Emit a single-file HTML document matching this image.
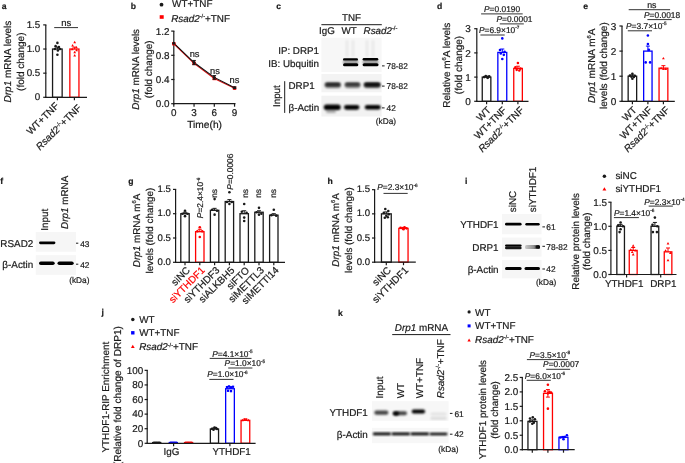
<!DOCTYPE html>
<html><head><meta charset="utf-8"><title>Figure</title>
<style>
html,body{margin:0;padding:0;background:#fff;width:685px;height:463px;overflow:hidden}
svg{display:block;will-change:transform}
text{font-family:"Liberation Sans",sans-serif;fill:#1a1a1a;text-rendering:geometricPrecision;stroke:#1a1a1a;stroke-width:0.22px;stroke-opacity:0.9}
</style></head><body>
<svg width="685" height="463" viewBox="0 0 685 463">
<defs><filter id="bl5" x="-50%" y="-50%" width="200%" height="200%"><feGaussianBlur stdDeviation="0.5"/></filter><filter id="bl6" x="-50%" y="-50%" width="200%" height="200%"><feGaussianBlur stdDeviation="0.6"/></filter><filter id="bl7" x="-50%" y="-50%" width="200%" height="200%"><feGaussianBlur stdDeviation="0.7"/></filter><filter id="bl8" x="-50%" y="-50%" width="200%" height="200%"><feGaussianBlur stdDeviation="0.8"/></filter><filter id="bl9" x="-50%" y="-50%" width="200%" height="200%"><feGaussianBlur stdDeviation="0.9"/></filter><filter id="bl10" x="-50%" y="-50%" width="200%" height="200%"><feGaussianBlur stdDeviation="1.0"/></filter><filter id="bl12" x="-50%" y="-50%" width="200%" height="200%"><feGaussianBlur stdDeviation="1.2"/></filter><filter id="bl15" x="-50%" y="-50%" width="200%" height="200%"><feGaussianBlur stdDeviation="1.5"/></filter><filter id="bl20" x="-50%" y="-50%" width="200%" height="200%"><feGaussianBlur stdDeviation="2.0"/></filter><linearGradient id="grd1" x1="0" x2="1" y1="0" y2="0"><stop offset="0" stop-color="#000" stop-opacity="0.18"/><stop offset="0.55" stop-color="#000" stop-opacity="0.4"/><stop offset="1" stop-color="#000" stop-opacity="0.85"/></linearGradient></defs>
<rect width="685" height="463" fill="#fff"/>
<text x="1.80" y="9.00" font-size="8.6" font-weight="bold" >a</text>
<line x1="45.80" y1="97.90" x2="45.80" y2="24.89" stroke="#1a1a1a" stroke-width="1.2" />
<line x1="43.20" y1="97.30" x2="46.40" y2="97.30" stroke="#1a1a1a" stroke-width="1.2" />
<text x="40.30" y="100.30" font-size="9.8" text-anchor="end" >0</text>
<line x1="43.20" y1="73.16" x2="46.40" y2="73.16" stroke="#1a1a1a" stroke-width="1.2" />
<text x="40.30" y="76.16" font-size="9.8" text-anchor="end" >0.5</text>
<line x1="43.20" y1="49.03" x2="46.40" y2="49.03" stroke="#1a1a1a" stroke-width="1.2" />
<text x="40.30" y="52.03" font-size="9.8" text-anchor="end" >1.0</text>
<line x1="43.20" y1="24.89" x2="46.40" y2="24.89" stroke="#1a1a1a" stroke-width="1.2" />
<text x="40.30" y="27.89" font-size="9.8" text-anchor="end" >1.5</text>
<rect x="52.55" y="49.03" width="9.60" height="48.27" fill="#fff" stroke="#1a1a1a" stroke-width="1.3" />
<rect x="69.85" y="49.03" width="9.10" height="48.27" fill="#fff" stroke="#ff0000" stroke-width="1.3" />
<line x1="45.20" y1="97.30" x2="87.00" y2="97.30" stroke="#1a1a1a" stroke-width="1.2" />
<line x1="57.40" y1="97.30" x2="57.40" y2="100.30" stroke="#1a1a1a" stroke-width="1.2" />
<line x1="74.40" y1="97.30" x2="74.40" y2="100.30" stroke="#1a1a1a" stroke-width="1.2" />
<line x1="57.40" y1="47.10" x2="57.40" y2="49.03" stroke="#1a1a1a" stroke-width="1.0" />
<line x1="55.40" y1="47.10" x2="59.40" y2="47.10" stroke="#1a1a1a" stroke-width="1.0" />
<line x1="74.40" y1="47.10" x2="74.40" y2="49.03" stroke="#ff0000" stroke-width="1.0" />
<line x1="72.40" y1="47.10" x2="76.40" y2="47.10" stroke="#ff0000" stroke-width="1.0" />
<circle cx="57.40" cy="42.90" r="1.3" fill="#1a1a1a"/>
<circle cx="55.60" cy="46.13" r="1.3" fill="#1a1a1a"/>
<circle cx="58.90" cy="47.10" r="1.3" fill="#1a1a1a"/>
<circle cx="54.90" cy="49.03" r="1.3" fill="#1a1a1a"/>
<circle cx="60.00" cy="49.03" r="1.3" fill="#1a1a1a"/>
<circle cx="57.90" cy="50.48" r="1.3" fill="#1a1a1a"/>
<circle cx="57.40" cy="54.82" r="1.3" fill="#1a1a1a"/>
<path d="M73.30 43.20L76.10 43.20L74.70 40.76Z" fill="#ff0000"/>
<path d="M71.20 46.39L74.00 46.39L72.60 43.95Z" fill="#ff0000"/>
<path d="M75.00 48.32L77.80 48.32L76.40 45.88Z" fill="#ff0000"/>
<path d="M70.80 50.25L73.60 50.25L72.20 47.81Z" fill="#ff0000"/>
<path d="M75.20 51.21L78.00 51.21L76.60 48.78Z" fill="#ff0000"/>
<path d="M73.30 53.14L76.10 53.14L74.70 50.71Z" fill="#ff0000"/>
<path d="M73.30 56.52L76.10 56.52L74.70 54.09Z" fill="#ff0000"/>
<line x1="54.20" y1="27.60" x2="78.00" y2="27.60" stroke="#333" stroke-width="1.0" />
<text x="66.20" y="25.90" font-size="9.45" text-anchor="middle" >ns</text>
<text x="10.80" y="61.60" font-size="10.0" text-anchor="middle" transform="rotate(-90 10.80 61.60)" ><tspan font-style="italic">Drp1</tspan> mRNA levels</text>
<text x="23.60" y="61.70" font-size="10.0" text-anchor="middle" transform="rotate(-90 23.60 61.70)" >(fold change)</text>
<text x="59.50" y="106.50" font-size="10.0" text-anchor="end" transform="rotate(-45 59.50 106.50)" >WT+TNF</text>
<text x="82.00" y="108.60" font-size="10.0" text-anchor="end" transform="rotate(-45 82.00 108.60)" ><tspan font-style="italic">Rsad2</tspan><tspan font-size="5.6" dy="-3.6">-/-</tspan><tspan dy="3.6">+TNF</tspan></text>
<text x="130.80" y="9.00" font-size="8.6" font-weight="bold" >b</text>
<circle cx="161.50" cy="4.70" r="1.9" fill="#1a1a1a"/>
<text x="172.10" y="7.00" font-size="9.9" >WT+TNF</text>
<rect x="159.7" y="15.2" width="4.0" height="3.6" fill="#ff0000"/>
<text x="171.20" y="21.80" font-size="9.9" ><tspan font-style="italic">Rsad2</tspan><tspan font-size="5.6" dy="-3.6">-/-</tspan><tspan dy="3.6">+TNF</tspan></text>
<line x1="173.80" y1="104.30" x2="173.80" y2="31.10" stroke="#1a1a1a" stroke-width="1.2" />
<line x1="171.20" y1="103.70" x2="174.40" y2="103.70" stroke="#1a1a1a" stroke-width="1.2" />
<text x="169.60" y="107.30" font-size="9.9" text-anchor="end" >0.0</text>
<line x1="171.20" y1="79.50" x2="174.40" y2="79.50" stroke="#1a1a1a" stroke-width="1.2" />
<text x="169.60" y="83.10" font-size="9.9" text-anchor="end" >0.4</text>
<line x1="171.20" y1="55.30" x2="174.40" y2="55.30" stroke="#1a1a1a" stroke-width="1.2" />
<text x="169.60" y="58.90" font-size="9.9" text-anchor="end" >0.8</text>
<line x1="171.20" y1="31.10" x2="174.40" y2="31.10" stroke="#1a1a1a" stroke-width="1.2" />
<text x="169.60" y="34.70" font-size="9.9" text-anchor="end" >1.2</text>
<line x1="173.20" y1="103.70" x2="235.50" y2="103.70" stroke="#1a1a1a" stroke-width="1.2" />
<line x1="173.80" y1="103.70" x2="173.80" y2="106.70" stroke="#1a1a1a" stroke-width="1.2" />
<line x1="194.05" y1="103.70" x2="194.05" y2="106.70" stroke="#1a1a1a" stroke-width="1.2" />
<line x1="214.30" y1="103.70" x2="214.30" y2="106.70" stroke="#1a1a1a" stroke-width="1.2" />
<line x1="234.55" y1="103.70" x2="234.55" y2="106.70" stroke="#1a1a1a" stroke-width="1.2" />
<text x="173.80" y="115.80" font-size="9.9" text-anchor="middle" >0</text>
<text x="194.05" y="115.80" font-size="9.9" text-anchor="middle" >3</text>
<text x="214.30" y="115.80" font-size="9.9" text-anchor="middle" >6</text>
<text x="234.55" y="115.80" font-size="9.9" text-anchor="middle" >9</text>
<text x="204.60" y="128.00" font-size="10.2" text-anchor="middle" >Time(h)</text>
<polyline points="173.80,43.70 194.05,63.36 214.30,78.49 234.55,88.17" fill="none" stroke="#e01010" stroke-width="1.2"/>
<polyline points="173.80,43.20 194.05,62.56 214.30,77.38 234.55,87.67" fill="none" stroke="#111" stroke-width="1.1"/>
<rect x="172.10" y="42.00" width="3.4" height="3.4" fill="#ff0000"/>
<rect x="192.35" y="61.66" width="3.4" height="3.4" fill="#ff0000"/>
<rect x="212.60" y="76.79" width="3.4" height="3.4" fill="#ff0000"/>
<rect x="232.85" y="86.47" width="3.4" height="3.4" fill="#ff0000"/>
<circle cx="173.80" cy="43.20" r="1.5" fill="#1a1a1a"/>
<circle cx="194.05" cy="62.56" r="1.5" fill="#1a1a1a"/>
<circle cx="214.30" cy="77.38" r="1.5" fill="#1a1a1a"/>
<circle cx="234.55" cy="87.67" r="1.5" fill="#1a1a1a"/>
<line x1="194.05" y1="60.44" x2="194.05" y2="64.68" stroke="#1a1a1a" stroke-width="1.0" />
<line x1="192.25" y1="60.44" x2="195.85" y2="60.44" stroke="#1a1a1a" stroke-width="1.0" />
<line x1="192.25" y1="64.68" x2="195.85" y2="64.68" stroke="#1a1a1a" stroke-width="1.0" />
<line x1="214.30" y1="75.57" x2="214.30" y2="79.20" stroke="#1a1a1a" stroke-width="1.0" />
<line x1="212.50" y1="75.57" x2="216.10" y2="75.57" stroke="#1a1a1a" stroke-width="1.0" />
<line x1="212.50" y1="79.20" x2="216.10" y2="79.20" stroke="#1a1a1a" stroke-width="1.0" />
<line x1="234.55" y1="86.94" x2="234.55" y2="88.39" stroke="#1a1a1a" stroke-width="1.0" />
<line x1="232.75" y1="86.94" x2="236.35" y2="86.94" stroke="#1a1a1a" stroke-width="1.0" />
<line x1="232.75" y1="88.39" x2="236.35" y2="88.39" stroke="#1a1a1a" stroke-width="1.0" />
<text x="194.60" y="56.60" font-size="9.3" text-anchor="middle" >ns</text>
<text x="215.00" y="74.00" font-size="9.3" text-anchor="middle" >ns</text>
<text x="234.40" y="83.10" font-size="9.3" text-anchor="middle" >ns</text>
<text x="139.00" y="69.30" font-size="9.9" text-anchor="middle" transform="rotate(-90 139.00 69.30)" ><tspan font-style="italic">Drp1</tspan> mRNA levels</text>
<text x="151.60" y="69.30" font-size="9.9" text-anchor="middle" transform="rotate(-90 151.60 69.30)" >(fold change)</text>
<text x="276.30" y="8.80" font-size="8.6" font-weight="bold" >c</text>
<text x="351.50" y="21.30" font-size="9.8" text-anchor="middle" >TNF</text>
<line x1="321.40" y1="24.70" x2="381.80" y2="24.70" stroke="#1a1a1a" stroke-width="1.0" />
<text x="327.00" y="33.90" font-size="9.8" text-anchor="middle" >IgG</text>
<text x="349.20" y="33.90" font-size="9.8" text-anchor="middle" >WT</text>
<text x="363.60" y="33.90" font-size="9.8" ><tspan font-style="italic">Rsad2</tspan><tspan font-size="5.8" dy="-3.8">-/-</tspan><tspan dy="3.8"></tspan></text>
<rect x="321.40" y="37.70" width="60.20" height="34.30" fill="#f7f7f7" filter="url(#bl5)"/>
<rect x="321.40" y="74.00" width="60.20" height="18.30" fill="#f3f3f3" filter="url(#bl5)"/>
<rect x="321.40" y="95.70" width="60.20" height="20.80" fill="#f2f2f2" filter="url(#bl5)"/>
<rect x="345.5" y="40" width="3" height="17" fill="#000" opacity="0.05" filter="url(#bl10)"/>
<rect x="351.5" y="40" width="3" height="17" fill="#000" opacity="0.05" filter="url(#bl10)"/>
<rect x="365.5" y="40" width="3" height="17" fill="#000" opacity="0.05" filter="url(#bl10)"/>
<rect x="371.5" y="40" width="3" height="17" fill="#000" opacity="0.05" filter="url(#bl10)"/>
<rect x="343.00" y="59.50" width="15.30" height="5.00" rx="2.50" fill="#000" opacity="0.35" filter="url(#bl10)"/>
<rect x="362.60" y="59.50" width="15.90" height="5.00" rx="2.50" fill="#000" opacity="0.35" filter="url(#bl10)"/>
<rect x="343.00" y="58.20" width="15.00" height="2.40" rx="1.20" fill="#000" opacity="1.0" filter="url(#bl7)"/>
<rect x="343.00" y="63.30" width="15.30" height="3.00" rx="1.50" fill="#000" opacity="1.0" filter="url(#bl7)"/>
<rect x="362.60" y="58.00" width="15.70" height="2.60" rx="1.30" fill="#000" opacity="1.0" filter="url(#bl7)"/>
<rect x="362.60" y="63.20" width="15.90" height="3.00" rx="1.50" fill="#000" opacity="1.0" filter="url(#bl7)"/>
<rect x="324.60" y="82.00" width="16.40" height="6.00" rx="3.00" fill="#000" opacity="0.6" filter="url(#bl10)"/>
<rect x="344.60" y="82.10" width="15.90" height="5.80" rx="2.90" fill="#000" opacity="0.55" filter="url(#bl10)"/>
<rect x="363.70" y="82.00" width="17.00" height="6.00" rx="3.00" fill="#000" opacity="0.7" filter="url(#bl10)"/>
<rect x="325.50" y="83.40" width="14.50" height="2.00" rx="1.00" fill="#000" opacity="0.9" filter="url(#bl8)"/>
<rect x="345.50" y="83.50" width="14.00" height="1.80" rx="0.90" fill="#000" opacity="0.85" filter="url(#bl8)"/>
<rect x="364.50" y="83.30" width="15.50" height="2.60" rx="1.30" fill="#000" opacity="1.0" filter="url(#bl8)"/>
<rect x="323.80" y="104.50" width="16.90" height="5.60" rx="2.80" fill="#000" opacity="1.0" filter="url(#bl8)"/>
<rect x="344.00" y="104.90" width="15.40" height="4.80" rx="2.40" fill="#000" opacity="1.0" filter="url(#bl8)"/>
<rect x="364.80" y="105.00" width="15.90" height="4.60" rx="2.30" fill="#000" opacity="1.0" filter="url(#bl8)"/>
<rect x="326.00" y="110.10" width="10.00" height="3.00" rx="1.50" fill="#000" opacity="0.3" filter="url(#bl10)"/>
<text x="319.00" y="54.40" font-size="9.8" text-anchor="end" >IP: DRP1</text>
<text x="319.00" y="66.50" font-size="9.8" text-anchor="end" >IB: Ubquitin</text>
<text x="288.50" y="89.00" font-size="9.8" >DRP1</text>
<text x="288.50" y="110.70" font-size="9.8" >β-Actin</text>
<line x1="284.70" y1="81.20" x2="284.70" y2="112.90" stroke="#1a1a1a" stroke-width="1.0" />
<text x="280.20" y="96.10" font-size="9.8" text-anchor="middle" transform="rotate(-90 280.20 96.10)" >Input</text>
<line x1="382.00" y1="65.90" x2="384.60" y2="65.90" stroke="#1a1a1a" stroke-width="1.0" />
<text x="386.60" y="68.90" font-size="8.3" >78-82</text>
<line x1="382.00" y1="86.10" x2="384.60" y2="86.10" stroke="#1a1a1a" stroke-width="1.0" />
<text x="386.60" y="89.10" font-size="8.3" >78-82</text>
<line x1="382.00" y1="107.90" x2="384.60" y2="107.90" stroke="#1a1a1a" stroke-width="1.0" />
<text x="386.60" y="110.90" font-size="8.3" >42</text>
<text x="375.80" y="124.30" font-size="8.3" >(kDa)</text>
<text x="436.90" y="8.80" font-size="8.6" font-weight="bold" >d</text>
<line x1="476.80" y1="101.90" x2="476.80" y2="28.70" stroke="#1a1a1a" stroke-width="1.2" />
<line x1="474.20" y1="101.30" x2="477.40" y2="101.30" stroke="#1a1a1a" stroke-width="1.2" />
<text x="470.90" y="104.90" font-size="10.0" text-anchor="end" >0</text>
<line x1="474.20" y1="77.10" x2="477.40" y2="77.10" stroke="#1a1a1a" stroke-width="1.2" />
<text x="470.90" y="80.70" font-size="10.0" text-anchor="end" >1</text>
<line x1="474.20" y1="52.90" x2="477.40" y2="52.90" stroke="#1a1a1a" stroke-width="1.2" />
<text x="470.90" y="56.50" font-size="10.0" text-anchor="end" >2</text>
<line x1="474.20" y1="28.70" x2="477.40" y2="28.70" stroke="#1a1a1a" stroke-width="1.2" />
<text x="470.90" y="32.30" font-size="10.0" text-anchor="end" >3</text>
<rect x="482.25" y="77.10" width="8.60" height="24.20" fill="#fff" stroke="#1a1a1a" stroke-width="1.3" />
<rect x="497.85" y="52.42" width="8.90" height="48.88" fill="#fff" stroke="#0000ff" stroke-width="1.3" />
<rect x="513.75" y="68.39" width="8.60" height="32.91" fill="#fff" stroke="#ff0000" stroke-width="1.3" />
<line x1="476.20" y1="101.30" x2="528.50" y2="101.30" stroke="#1a1a1a" stroke-width="1.2" />
<line x1="486.60" y1="101.30" x2="486.60" y2="104.30" stroke="#1a1a1a" stroke-width="1.2" />
<line x1="502.30" y1="101.30" x2="502.30" y2="104.30" stroke="#1a1a1a" stroke-width="1.2" />
<line x1="517.90" y1="101.30" x2="517.90" y2="104.30" stroke="#1a1a1a" stroke-width="1.2" />
<line x1="486.60" y1="76.13" x2="486.60" y2="77.10" stroke="#1a1a1a" stroke-width="1.0" />
<line x1="484.60" y1="76.13" x2="488.60" y2="76.13" stroke="#1a1a1a" stroke-width="1.0" />
<line x1="502.30" y1="49.03" x2="502.30" y2="52.42" stroke="#0000ff" stroke-width="1.0" />
<line x1="500.30" y1="49.03" x2="504.30" y2="49.03" stroke="#0000ff" stroke-width="1.0" />
<line x1="517.90" y1="66.21" x2="517.90" y2="68.39" stroke="#ff0000" stroke-width="1.0" />
<line x1="515.90" y1="66.21" x2="519.90" y2="66.21" stroke="#ff0000" stroke-width="1.0" />
<circle cx="484.10" cy="77.10" r="1.3" fill="#1a1a1a"/>
<circle cx="485.80" cy="76.13" r="1.3" fill="#1a1a1a"/>
<circle cx="487.80" cy="77.83" r="1.3" fill="#1a1a1a"/>
<circle cx="489.20" cy="76.37" r="1.3" fill="#1a1a1a"/>
<circle cx="486.90" cy="77.10" r="1.3" fill="#1a1a1a"/>
<circle cx="502.30" cy="38.38" r="1.3" fill="#0000ff"/>
<circle cx="500.00" cy="50.00" r="1.3" fill="#0000ff"/>
<circle cx="504.60" cy="51.69" r="1.3" fill="#0000ff"/>
<circle cx="500.80" cy="53.38" r="1.3" fill="#0000ff"/>
<circle cx="503.80" cy="54.84" r="1.3" fill="#0000ff"/>
<circle cx="502.30" cy="58.95" r="1.3" fill="#0000ff"/>
<circle cx="517.90" cy="63.06" r="1.3" fill="#ff0000"/>
<circle cx="515.40" cy="67.42" r="1.3" fill="#ff0000"/>
<circle cx="520.40" cy="68.63" r="1.3" fill="#ff0000"/>
<circle cx="516.70" cy="69.84" r="1.3" fill="#ff0000"/>
<circle cx="519.30" cy="70.57" r="1.3" fill="#ff0000"/>
<text x="484.00" y="12.00" font-size="8.4" ><tspan font-style="italic">P</tspan>=0.0190</text>
<line x1="481.10" y1="13.90" x2="522.70" y2="13.90" stroke="#333" stroke-width="1.0" />
<text x="496.40" y="21.60" font-size="8.4" ><tspan font-style="italic">P</tspan>=0.0001</text>
<line x1="499.80" y1="23.90" x2="523.80" y2="23.90" stroke="#333" stroke-width="1.0" />
<text x="478.90" y="32.80" font-size="8.4" ><tspan font-style="italic">P</tspan>=6.9×10<tspan font-size="4.704000000000001" dy="-3.528">-7</tspan><tspan dy="3.528"></tspan></text>
<line x1="480.40" y1="35.00" x2="504.70" y2="35.00" stroke="#333" stroke-width="1.0" />
<text x="449.60" y="65.20" font-size="10.0" text-anchor="middle" transform="rotate(-90 449.60 65.20)" >Relative m<tspan font-size="5.8" dy="-3.8">6</tspan><tspan dy="3.8">A levels</tspan></text>
<text x="461.90" y="65.00" font-size="10.0" text-anchor="middle" transform="rotate(-90 461.90 65.00)" >(fold change)</text>
<text x="491.50" y="110.80" font-size="10.0" text-anchor="end" transform="rotate(-45 491.50 110.80)" >WT</text>
<text x="507.20" y="110.80" font-size="10.0" text-anchor="end" transform="rotate(-45 507.20 110.80)" >WT+TNF</text>
<text x="524.50" y="110.80" font-size="10.0" text-anchor="end" transform="rotate(-45 524.50 110.80)" ><tspan font-style="italic">Rsad2</tspan><tspan font-size="5.6" dy="-3.6">-/-</tspan><tspan dy="3.6">+TNF</tspan></text>
<text x="583.30" y="8.70" font-size="8.6" font-weight="bold" >e</text>
<line x1="622.00" y1="101.90" x2="622.00" y2="26.00" stroke="#1a1a1a" stroke-width="1.2" />
<line x1="619.40" y1="101.30" x2="622.60" y2="101.30" stroke="#1a1a1a" stroke-width="1.2" />
<text x="616.40" y="104.90" font-size="10.0" text-anchor="end" >0</text>
<line x1="619.40" y1="76.20" x2="622.60" y2="76.20" stroke="#1a1a1a" stroke-width="1.2" />
<text x="616.40" y="79.80" font-size="10.0" text-anchor="end" >1</text>
<line x1="619.40" y1="51.10" x2="622.60" y2="51.10" stroke="#1a1a1a" stroke-width="1.2" />
<text x="616.40" y="54.70" font-size="10.0" text-anchor="end" >2</text>
<line x1="619.40" y1="26.00" x2="622.60" y2="26.00" stroke="#1a1a1a" stroke-width="1.2" />
<text x="616.40" y="29.60" font-size="10.0" text-anchor="end" >3</text>
<rect x="628.15" y="76.20" width="8.50" height="25.10" fill="#fff" stroke="#1a1a1a" stroke-width="1.3" />
<rect x="643.65" y="51.10" width="8.40" height="50.20" fill="#fff" stroke="#0000ff" stroke-width="1.3" />
<rect x="659.05" y="68.17" width="8.80" height="33.13" fill="#fff" stroke="#ff0000" stroke-width="1.3" />
<line x1="621.40" y1="101.30" x2="674.80" y2="101.30" stroke="#1a1a1a" stroke-width="1.2" />
<line x1="632.40" y1="101.30" x2="632.40" y2="104.30" stroke="#1a1a1a" stroke-width="1.2" />
<line x1="647.90" y1="101.30" x2="647.90" y2="104.30" stroke="#1a1a1a" stroke-width="1.2" />
<line x1="663.40" y1="101.30" x2="663.40" y2="104.30" stroke="#1a1a1a" stroke-width="1.2" />
<line x1="632.40" y1="74.94" x2="632.40" y2="76.20" stroke="#1a1a1a" stroke-width="1.0" />
<line x1="630.40" y1="74.94" x2="634.40" y2="74.94" stroke="#1a1a1a" stroke-width="1.0" />
<line x1="647.90" y1="46.08" x2="647.90" y2="51.10" stroke="#0000ff" stroke-width="1.0" />
<line x1="645.90" y1="46.08" x2="649.90" y2="46.08" stroke="#0000ff" stroke-width="1.0" />
<line x1="663.40" y1="65.66" x2="663.40" y2="68.17" stroke="#ff0000" stroke-width="1.0" />
<line x1="661.40" y1="65.66" x2="665.40" y2="65.66" stroke="#ff0000" stroke-width="1.0" />
<circle cx="629.90" cy="75.45" r="1.3" fill="#1a1a1a"/>
<circle cx="632.40" cy="73.69" r="1.3" fill="#1a1a1a"/>
<circle cx="634.90" cy="75.70" r="1.3" fill="#1a1a1a"/>
<circle cx="631.40" cy="76.70" r="1.3" fill="#1a1a1a"/>
<circle cx="633.90" cy="76.95" r="1.3" fill="#1a1a1a"/>
<circle cx="632.40" cy="78.71" r="1.3" fill="#1a1a1a"/>
<circle cx="647.90" cy="35.54" r="1.3" fill="#0000ff"/>
<circle cx="647.90" cy="44.07" r="1.3" fill="#0000ff"/>
<circle cx="645.70" cy="62.39" r="1.3" fill="#0000ff"/>
<circle cx="650.10" cy="62.39" r="1.3" fill="#0000ff"/>
<circle cx="648.90" cy="49.84" r="1.3" fill="#0000ff"/>
<path d="M662.00 59.35L664.80 59.35L663.40 56.91Z" fill="#ff0000"/>
<path d="M659.70 69.14L662.50 69.14L661.10 66.70Z" fill="#ff0000"/>
<path d="M664.30 69.89L667.10 69.89L665.70 67.45Z" fill="#ff0000"/>
<path d="M662.00 69.89L664.80 69.89L663.40 67.45Z" fill="#ff0000"/>
<text x="651.80" y="7.70" font-size="8.8" text-anchor="middle" >ns</text>
<line x1="628.70" y1="9.70" x2="670.10" y2="9.70" stroke="#333" stroke-width="1.0" />
<text x="644.00" y="17.60" font-size="8.4" ><tspan font-style="italic">P</tspan>=0.0018</text>
<line x1="647.40" y1="19.60" x2="671.70" y2="19.60" stroke="#333" stroke-width="1.0" />
<text x="626.00" y="28.80" font-size="8.4" ><tspan font-style="italic">P</tspan>=3.7×10<tspan font-size="4.704000000000001" dy="-3.528">-5</tspan><tspan dy="3.528"></tspan></text>
<line x1="627.80" y1="30.80" x2="652.00" y2="30.80" stroke="#333" stroke-width="1.0" />
<text x="595.00" y="65.70" font-size="10.0" text-anchor="middle" transform="rotate(-90 595.00 65.70)" ><tspan font-style="italic">Drp1</tspan> mRNA m<tspan font-size="5.8" dy="-3.8">6</tspan><tspan dy="3.8">A</tspan></text>
<text x="607.10" y="65.60" font-size="10.0" text-anchor="middle" transform="rotate(-90 607.10 65.60)" >levels (fold change)</text>
<text x="637.30" y="110.80" font-size="10.0" text-anchor="end" transform="rotate(-45 637.30 110.80)" >WT</text>
<text x="652.80" y="110.80" font-size="10.0" text-anchor="end" transform="rotate(-45 652.80 110.80)" >WT+TNF</text>
<text x="670.00" y="110.80" font-size="10.0" text-anchor="end" transform="rotate(-45 670.00 110.80)" ><tspan font-style="italic">Rsad2</tspan><tspan font-size="5.6" dy="-3.6">-/-</tspan><tspan dy="3.6">+TNF</tspan></text>
<text x="0.20" y="184.40" font-size="8.6" font-weight="bold" >f</text>
<text x="48.00" y="230.80" font-size="9.9" transform="rotate(-90 48.00 230.80)" >Input</text>
<text x="68.00" y="229.00" font-size="9.9" transform="rotate(-90 68.00 229.00)" ><tspan font-style="italic">Drp1</tspan> mRNA</text>
<rect x="35.80" y="232.00" width="40.20" height="19.70" fill="#f6f6f6" filter="url(#bl5)"/>
<rect x="35.80" y="255.20" width="40.20" height="19.60" fill="#f6f6f6" filter="url(#bl5)"/>
<rect x="39.00" y="241.40" width="16.40" height="2.80" rx="1.40" fill="#000" opacity="1.0" filter="url(#bl7)"/>
<rect x="39.00" y="261.50" width="15.70" height="3.60" rx="1.80" fill="#000" opacity="1.0" filter="url(#bl7)"/>
<rect x="57.50" y="261.50" width="16.20" height="3.60" rx="1.80" fill="#000" opacity="1.0" filter="url(#bl7)"/>
<text x="33.30" y="246.80" font-size="9.9" text-anchor="end" >RSAD2</text>
<text x="33.30" y="267.80" font-size="9.9" text-anchor="end" >β-Actin</text>
<line x1="76.00" y1="243.20" x2="78.30" y2="243.20" stroke="#1a1a1a" stroke-width="1.0" />
<text x="80.20" y="246.80" font-size="8.3" >43</text>
<line x1="76.00" y1="264.20" x2="78.30" y2="264.20" stroke="#1a1a1a" stroke-width="1.0" />
<text x="80.20" y="267.80" font-size="8.3" >42</text>
<text x="69.20" y="283.20" font-size="8.3" >(kDa)</text>
<text x="128.20" y="184.30" font-size="8.6" font-weight="bold" >g</text>
<line x1="175.60" y1="262.90" x2="175.60" y2="189.40" stroke="#1a1a1a" stroke-width="1.2" />
<line x1="173.00" y1="262.30" x2="176.20" y2="262.30" stroke="#1a1a1a" stroke-width="1.2" />
<text x="170.90" y="264.90" font-size="9.6" text-anchor="end" >0.0</text>
<line x1="173.00" y1="238.00" x2="176.20" y2="238.00" stroke="#1a1a1a" stroke-width="1.2" />
<text x="170.90" y="240.60" font-size="9.6" text-anchor="end" >0.5</text>
<line x1="173.00" y1="213.70" x2="176.20" y2="213.70" stroke="#1a1a1a" stroke-width="1.2" />
<text x="170.90" y="216.30" font-size="9.6" text-anchor="end" >1.0</text>
<line x1="173.00" y1="189.40" x2="176.20" y2="189.40" stroke="#1a1a1a" stroke-width="1.2" />
<text x="170.90" y="192.00" font-size="9.6" text-anchor="end" >1.5</text>
<rect x="180.80" y="213.70" width="8.40" height="48.60" fill="#fff" stroke="#1a1a1a" stroke-width="1.3" />
<line x1="185.00" y1="212.24" x2="185.00" y2="213.70" stroke="#1a1a1a" stroke-width="1.0" />
<line x1="183.00" y1="212.24" x2="187.00" y2="212.24" stroke="#1a1a1a" stroke-width="1.0" />
<rect x="195.60" y="231.68" width="8.40" height="30.62" fill="#fff" stroke="#ff0000" stroke-width="1.3" />
<line x1="199.80" y1="229.25" x2="199.80" y2="231.68" stroke="#ff0000" stroke-width="1.0" />
<line x1="197.80" y1="229.25" x2="201.80" y2="229.25" stroke="#ff0000" stroke-width="1.0" />
<rect x="210.40" y="210.30" width="8.40" height="52.00" fill="#fff" stroke="#1a1a1a" stroke-width="1.3" />
<line x1="214.60" y1="208.35" x2="214.60" y2="210.30" stroke="#1a1a1a" stroke-width="1.0" />
<line x1="212.60" y1="208.35" x2="216.60" y2="208.35" stroke="#1a1a1a" stroke-width="1.0" />
<rect x="225.20" y="201.55" width="8.40" height="60.75" fill="#fff" stroke="#1a1a1a" stroke-width="1.3" />
<line x1="229.40" y1="199.61" x2="229.40" y2="201.55" stroke="#1a1a1a" stroke-width="1.0" />
<line x1="227.40" y1="199.61" x2="231.40" y2="199.61" stroke="#1a1a1a" stroke-width="1.0" />
<rect x="240.00" y="213.70" width="8.40" height="48.60" fill="#fff" stroke="#1a1a1a" stroke-width="1.3" />
<line x1="244.20" y1="210.78" x2="244.20" y2="213.70" stroke="#1a1a1a" stroke-width="1.0" />
<line x1="242.20" y1="210.78" x2="246.20" y2="210.78" stroke="#1a1a1a" stroke-width="1.0" />
<rect x="254.80" y="212.24" width="8.40" height="50.06" fill="#fff" stroke="#1a1a1a" stroke-width="1.3" />
<line x1="259.00" y1="210.78" x2="259.00" y2="212.24" stroke="#1a1a1a" stroke-width="1.0" />
<line x1="257.00" y1="210.78" x2="261.00" y2="210.78" stroke="#1a1a1a" stroke-width="1.0" />
<rect x="269.60" y="215.16" width="8.40" height="47.14" fill="#fff" stroke="#1a1a1a" stroke-width="1.3" />
<line x1="273.80" y1="213.70" x2="273.80" y2="215.16" stroke="#1a1a1a" stroke-width="1.0" />
<line x1="271.80" y1="213.70" x2="275.80" y2="213.70" stroke="#1a1a1a" stroke-width="1.0" />
<line x1="175.40" y1="262.30" x2="285.00" y2="262.30" stroke="#1a1a1a" stroke-width="1.2" />
<line x1="185.00" y1="262.30" x2="185.00" y2="265.30" stroke="#1a1a1a" stroke-width="1.2" />
<line x1="199.80" y1="262.30" x2="199.80" y2="265.30" stroke="#1a1a1a" stroke-width="1.2" />
<line x1="214.60" y1="262.30" x2="214.60" y2="265.30" stroke="#1a1a1a" stroke-width="1.2" />
<line x1="229.40" y1="262.30" x2="229.40" y2="265.30" stroke="#1a1a1a" stroke-width="1.2" />
<line x1="244.20" y1="262.30" x2="244.20" y2="265.30" stroke="#1a1a1a" stroke-width="1.2" />
<line x1="259.00" y1="262.30" x2="259.00" y2="265.30" stroke="#1a1a1a" stroke-width="1.2" />
<line x1="273.80" y1="262.30" x2="273.80" y2="265.30" stroke="#1a1a1a" stroke-width="1.2" />
<circle cx="182.50" cy="213.70" r="1.3" fill="#1a1a1a"/>
<circle cx="185.00" cy="210.78" r="1.3" fill="#1a1a1a"/>
<circle cx="187.50" cy="213.70" r="1.3" fill="#1a1a1a"/>
<circle cx="185.00" cy="216.13" r="1.3" fill="#1a1a1a"/>
<circle cx="199.80" cy="237.03" r="1.3" fill="#ff0000"/>
<circle cx="197.40" cy="231.20" r="1.3" fill="#ff0000"/>
<circle cx="202.20" cy="231.20" r="1.3" fill="#ff0000"/>
<circle cx="199.80" cy="227.31" r="1.3" fill="#ff0000"/>
<circle cx="214.60" cy="199.12" r="1.3" fill="#1a1a1a"/>
<circle cx="212.20" cy="209.81" r="1.3" fill="#1a1a1a"/>
<circle cx="217.00" cy="210.78" r="1.3" fill="#1a1a1a"/>
<circle cx="214.60" cy="214.67" r="1.3" fill="#1a1a1a"/>
<circle cx="229.40" cy="192.32" r="1.3" fill="#1a1a1a"/>
<circle cx="227.00" cy="202.04" r="1.3" fill="#1a1a1a"/>
<circle cx="231.80" cy="202.04" r="1.3" fill="#1a1a1a"/>
<circle cx="229.40" cy="203.98" r="1.3" fill="#1a1a1a"/>
<circle cx="244.20" cy="203.98" r="1.3" fill="#1a1a1a"/>
<circle cx="241.80" cy="211.76" r="1.3" fill="#1a1a1a"/>
<circle cx="246.60" cy="212.73" r="1.3" fill="#1a1a1a"/>
<circle cx="244.20" cy="220.99" r="1.3" fill="#1a1a1a"/>
<circle cx="244.20" cy="217.59" r="1.3" fill="#1a1a1a"/>
<circle cx="259.00" cy="207.87" r="1.3" fill="#1a1a1a"/>
<circle cx="256.60" cy="212.24" r="1.3" fill="#1a1a1a"/>
<circle cx="261.40" cy="213.70" r="1.3" fill="#1a1a1a"/>
<circle cx="259.00" cy="214.67" r="1.3" fill="#1a1a1a"/>
<circle cx="273.80" cy="209.81" r="1.3" fill="#1a1a1a"/>
<circle cx="271.40" cy="215.16" r="1.3" fill="#1a1a1a"/>
<circle cx="276.20" cy="215.64" r="1.3" fill="#1a1a1a"/>
<text x="203.30" y="218.20" font-size="8.4" transform="rotate(-90 203.30 218.20)" ><tspan font-style="italic">P</tspan>=2.4×10<tspan font-size="4.704000000000001" dy="-3.528">-6</tspan><tspan dy="3.528"></tspan></text>
<text x="216.70" y="197.80" font-size="8.4" transform="rotate(-90 216.70 197.80)" >ns</text>
<text x="232.90" y="189.70" font-size="8.4" transform="rotate(-90 232.90 189.70)" ><tspan font-style="italic">P</tspan>=0.0006</text>
<text x="247.60" y="197.80" font-size="8.4" transform="rotate(-90 247.60 197.80)" >ns</text>
<text x="261.20" y="197.80" font-size="8.4" transform="rotate(-90 261.20 197.80)" >ns</text>
<text x="275.80" y="197.80" font-size="8.4" transform="rotate(-90 275.80 197.80)" >ns</text>
<text x="140.00" y="230.50" font-size="9.9" text-anchor="middle" transform="rotate(-90 140.00 230.50)" ><tspan font-style="italic">Drp1</tspan> mRNA m<tspan font-size="5.8" dy="-3.8">6</tspan><tspan dy="3.8">A</tspan></text>
<text x="153.30" y="230.60" font-size="9.9" text-anchor="middle" transform="rotate(-90 153.30 230.60)" >levels (fold change)</text>
<text x="190.70" y="270.90" font-size="10.0" text-anchor="end" transform="rotate(-45 190.70 270.90)" >siNC</text>
<text x="205.50" y="270.90" font-size="10.0" text-anchor="end" transform="rotate(-45 205.50 270.90)" style="fill:#ff0000;stroke:#ff0000" >siYTHDF1</text>
<text x="220.30" y="270.90" font-size="10.0" text-anchor="end" transform="rotate(-45 220.30 270.90)" >siYTHDF3</text>
<text x="235.10" y="270.90" font-size="10.0" text-anchor="end" transform="rotate(-45 235.10 270.90)" >siALKBH5</text>
<text x="249.90" y="270.90" font-size="10.0" text-anchor="end" transform="rotate(-45 249.90 270.90)" >siFTO</text>
<text x="264.70" y="270.90" font-size="10.0" text-anchor="end" transform="rotate(-45 264.70 270.90)" >siMETTL3</text>
<text x="279.50" y="270.90" font-size="10.0" text-anchor="end" transform="rotate(-45 279.50 270.90)" >siMETTl14</text>
<text x="327.50" y="184.40" font-size="8.6" font-weight="bold" >h</text>
<line x1="374.60" y1="262.80" x2="374.60" y2="189.67" stroke="#1a1a1a" stroke-width="1.2" />
<line x1="372.00" y1="262.20" x2="375.20" y2="262.20" stroke="#1a1a1a" stroke-width="1.2" />
<text x="370.00" y="264.70" font-size="9.6" text-anchor="end" >0.0</text>
<line x1="372.00" y1="238.02" x2="375.20" y2="238.02" stroke="#1a1a1a" stroke-width="1.2" />
<text x="370.00" y="240.52" font-size="9.6" text-anchor="end" >0.5</text>
<line x1="372.00" y1="213.85" x2="375.20" y2="213.85" stroke="#1a1a1a" stroke-width="1.2" />
<text x="370.00" y="216.35" font-size="9.6" text-anchor="end" >1.0</text>
<line x1="372.00" y1="189.67" x2="375.20" y2="189.67" stroke="#1a1a1a" stroke-width="1.2" />
<text x="370.00" y="192.17" font-size="9.6" text-anchor="end" >1.5</text>
<rect x="381.45" y="213.85" width="9.80" height="48.35" fill="#fff" stroke="#1a1a1a" stroke-width="1.3" />
<rect x="398.85" y="228.35" width="9.20" height="33.84" fill="#fff" stroke="#ff0000" stroke-width="1.3" />
<line x1="374.20" y1="262.20" x2="415.80" y2="262.20" stroke="#1a1a1a" stroke-width="1.2" />
<line x1="386.30" y1="262.20" x2="386.30" y2="265.20" stroke="#1a1a1a" stroke-width="1.2" />
<line x1="403.50" y1="262.20" x2="403.50" y2="265.20" stroke="#1a1a1a" stroke-width="1.2" />
<line x1="386.30" y1="211.92" x2="386.30" y2="213.85" stroke="#1a1a1a" stroke-width="1.0" />
<line x1="384.30" y1="211.92" x2="388.30" y2="211.92" stroke="#1a1a1a" stroke-width="1.0" />
<line x1="403.50" y1="227.39" x2="403.50" y2="228.35" stroke="#ff0000" stroke-width="1.0" />
<line x1="401.50" y1="227.39" x2="405.50" y2="227.39" stroke="#ff0000" stroke-width="1.0" />
<circle cx="385.30" cy="209.01" r="1.3" fill="#1a1a1a"/>
<circle cx="388.30" cy="210.95" r="1.3" fill="#1a1a1a"/>
<circle cx="383.80" cy="212.88" r="1.3" fill="#1a1a1a"/>
<circle cx="388.80" cy="214.33" r="1.3" fill="#1a1a1a"/>
<circle cx="386.30" cy="215.78" r="1.3" fill="#1a1a1a"/>
<circle cx="384.80" cy="217.72" r="1.3" fill="#1a1a1a"/>
<circle cx="387.80" cy="217.23" r="1.3" fill="#1a1a1a"/>
<circle cx="400.50" cy="227.87" r="1.3" fill="#ff0000"/>
<circle cx="402.50" cy="228.35" r="1.3" fill="#ff0000"/>
<circle cx="404.50" cy="227.39" r="1.3" fill="#ff0000"/>
<circle cx="406.50" cy="228.35" r="1.3" fill="#ff0000"/>
<circle cx="403.50" cy="229.32" r="1.3" fill="#ff0000"/>
<text x="377.20" y="190.40" font-size="8.4" ><tspan font-style="italic">P</tspan>=2.3×10<tspan font-size="4.704000000000001" dy="-3.528">-6</tspan><tspan dy="3.528"></tspan></text>
<line x1="383.50" y1="193.40" x2="407.70" y2="193.40" stroke="#333" stroke-width="1.0" />
<text x="338.90" y="229.90" font-size="9.9" text-anchor="middle" transform="rotate(-90 338.90 229.90)" ><tspan font-style="italic">Drp1</tspan> mRNA m<tspan font-size="5.8" dy="-3.8">6</tspan><tspan dy="3.8">A</tspan></text>
<text x="352.00" y="230.10" font-size="9.9" text-anchor="middle" transform="rotate(-90 352.00 230.10)" >levels (fold change)</text>
<text x="391.70" y="270.90" font-size="10.0" text-anchor="end" transform="rotate(-45 391.70 270.90)" >siNC</text>
<text x="408.90" y="270.90" font-size="10.0" text-anchor="end" transform="rotate(-45 408.90 270.90)" >siYTHDF1</text>
<text x="465.00" y="184.20" font-size="8.6" font-weight="bold" >i</text>
<text x="515.60" y="212.20" font-size="9.9" transform="rotate(-90 515.60 212.20)" >siNC</text>
<text x="536.00" y="212.20" font-size="9.9" transform="rotate(-90 536.00 212.20)" >siYTHDF1</text>
<rect x="502.00" y="214.00" width="39.50" height="20.20" fill="#f6f6f6" filter="url(#bl5)"/>
<rect x="502.00" y="237.60" width="39.50" height="19.00" fill="#f6f6f6" filter="url(#bl5)"/>
<rect x="502.00" y="260.00" width="39.50" height="18.30" fill="#f6f6f6" filter="url(#bl5)"/>
<rect x="505.00" y="222.80" width="16.60" height="2.80" rx="1.40" fill="#000" opacity="1.0" filter="url(#bl7)"/>
<rect x="525.30" y="223.00" width="14.40" height="2.40" rx="1.20" fill="#000" opacity="1.0" filter="url(#bl7)"/>
<rect x="505.00" y="244.40" width="16.60" height="2.40" rx="1.20" fill="#000" opacity="1.0" filter="url(#bl7)"/>
<rect x="505.00" y="246.80" width="16.60" height="2.40" rx="1.20" fill="#000" opacity="0.9" filter="url(#bl7)"/>
<rect x="525.0" y="244.9" width="15.0" height="4.0" rx="1.5" fill="url(#grd1)" filter="url(#bl7)"/>
<rect x="535.5" y="245.3" width="4.5" height="3.2" rx="1.5" fill="#000" opacity="0.8" filter="url(#bl6)"/>
<rect x="505.00" y="266.90" width="16.60" height="3.00" rx="1.50" fill="#000" opacity="1.0" filter="url(#bl7)"/>
<rect x="524.50" y="266.90" width="15.50" height="3.00" rx="1.50" fill="#000" opacity="1.0" filter="url(#bl7)"/>
<text x="498.60" y="228.00" font-size="9.9" text-anchor="end" >YTHDF1</text>
<text x="498.60" y="250.60" font-size="9.9" text-anchor="end" >DRP1</text>
<text x="498.60" y="273.00" font-size="9.9" text-anchor="end" >β-Actin</text>
<line x1="542.40" y1="226.90" x2="545.00" y2="226.90" stroke="#1a1a1a" stroke-width="1.0" />
<text x="546.30" y="230.10" font-size="8.3" >61</text>
<line x1="542.40" y1="246.30" x2="545.00" y2="246.30" stroke="#1a1a1a" stroke-width="1.0" />
<text x="546.30" y="249.50" font-size="8.3" >78-82</text>
<line x1="542.40" y1="269.00" x2="545.00" y2="269.00" stroke="#1a1a1a" stroke-width="1.0" />
<text x="546.30" y="272.20" font-size="8.3" >42</text>
<text x="536.00" y="285.40" font-size="8.3" >(kDa)</text>
<line x1="610.90" y1="275.10" x2="610.90" y2="202.20" stroke="#1a1a1a" stroke-width="1.2" />
<line x1="608.30" y1="274.50" x2="611.50" y2="274.50" stroke="#1a1a1a" stroke-width="1.2" />
<text x="606.90" y="277.80" font-size="9.9" text-anchor="end" >0.0</text>
<line x1="608.30" y1="250.40" x2="611.50" y2="250.40" stroke="#1a1a1a" stroke-width="1.2" />
<text x="606.90" y="253.70" font-size="9.9" text-anchor="end" >0.5</text>
<line x1="608.30" y1="226.30" x2="611.50" y2="226.30" stroke="#1a1a1a" stroke-width="1.2" />
<text x="606.90" y="229.60" font-size="9.9" text-anchor="end" >1.0</text>
<line x1="608.30" y1="202.20" x2="611.50" y2="202.20" stroke="#1a1a1a" stroke-width="1.2" />
<text x="606.90" y="205.50" font-size="9.9" text-anchor="end" >1.5</text>
<rect x="616.85" y="226.30" width="7.60" height="48.20" fill="#fff" stroke="#1a1a1a" stroke-width="1.3" />
<rect x="629.25" y="250.40" width="7.90" height="24.10" fill="#fff" stroke="#ff0000" stroke-width="1.3" />
<rect x="651.05" y="226.30" width="7.70" height="48.20" fill="#fff" stroke="#1a1a1a" stroke-width="1.3" />
<rect x="664.25" y="251.85" width="7.60" height="22.65" fill="#fff" stroke="#ff0000" stroke-width="1.3" />
<line x1="610.30" y1="274.50" x2="676.50" y2="274.50" stroke="#1a1a1a" stroke-width="1.2" />
<line x1="626.60" y1="274.50" x2="626.60" y2="277.50" stroke="#1a1a1a" stroke-width="1.2" />
<line x1="660.70" y1="274.50" x2="660.70" y2="277.50" stroke="#1a1a1a" stroke-width="1.2" />
<line x1="620.60" y1="224.37" x2="620.60" y2="226.30" stroke="#1a1a1a" stroke-width="1.0" />
<line x1="618.60" y1="224.37" x2="622.60" y2="224.37" stroke="#1a1a1a" stroke-width="1.0" />
<line x1="633.20" y1="247.51" x2="633.20" y2="250.40" stroke="#ff0000" stroke-width="1.0" />
<line x1="631.20" y1="247.51" x2="635.20" y2="247.51" stroke="#ff0000" stroke-width="1.0" />
<line x1="654.90" y1="222.44" x2="654.90" y2="226.30" stroke="#1a1a1a" stroke-width="1.0" />
<line x1="652.90" y1="222.44" x2="656.90" y2="222.44" stroke="#1a1a1a" stroke-width="1.0" />
<line x1="668.00" y1="247.99" x2="668.00" y2="251.85" stroke="#ff0000" stroke-width="1.0" />
<line x1="666.00" y1="247.99" x2="670.00" y2="247.99" stroke="#ff0000" stroke-width="1.0" />
<circle cx="620.60" cy="222.44" r="1.3" fill="#1a1a1a"/>
<circle cx="618.20" cy="225.34" r="1.3" fill="#1a1a1a"/>
<circle cx="623.00" cy="226.30" r="1.3" fill="#1a1a1a"/>
<circle cx="620.60" cy="229.19" r="1.3" fill="#1a1a1a"/>
<circle cx="619.60" cy="232.08" r="1.3" fill="#1a1a1a"/>
<path d="M631.80 246.80L634.60 246.80L633.20 244.36Z" fill="#ff0000"/>
<path d="M629.40 250.65L632.20 250.65L630.80 248.22Z" fill="#ff0000"/>
<path d="M634.20 251.62L637.00 251.62L635.60 249.18Z" fill="#ff0000"/>
<path d="M631.80 255.47L634.60 255.47L633.20 253.04Z" fill="#ff0000"/>
<path d="M630.80 253.06L633.60 253.06L632.20 250.63Z" fill="#ff0000"/>
<circle cx="654.90" cy="217.62" r="1.3" fill="#1a1a1a"/>
<circle cx="652.50" cy="224.85" r="1.3" fill="#1a1a1a"/>
<circle cx="657.30" cy="226.30" r="1.3" fill="#1a1a1a"/>
<circle cx="652.90" cy="232.08" r="1.3" fill="#1a1a1a"/>
<circle cx="656.90" cy="232.08" r="1.3" fill="#1a1a1a"/>
<path d="M666.60 244.39L669.40 244.39L668.00 241.95Z" fill="#ff0000"/>
<path d="M664.20 251.62L667.00 251.62L665.60 249.18Z" fill="#ff0000"/>
<path d="M669.00 254.03L671.80 254.03L670.40 251.59Z" fill="#ff0000"/>
<path d="M666.60 261.26L669.40 261.26L668.00 258.82Z" fill="#ff0000"/>
<circle cx="604.40" cy="176.30" r="1.75" fill="#1a1a1a"/>
<text x="615.40" y="178.90" font-size="9.9" >siNC</text>
<path d="M602.45 190.60L606.35 190.60L604.40 187.20Z" fill="#ff0000"/>
<text x="615.40" y="191.90" font-size="9.9" >siYTHDF1</text>
<text x="644.20" y="204.60" font-size="8.4" ><tspan font-style="italic">P</tspan>=2.3×10<tspan font-size="4.704000000000001" dy="-3.528">-4</tspan><tspan dy="3.528"></tspan></text>
<line x1="648.70" y1="206.10" x2="672.90" y2="206.10" stroke="#333" stroke-width="1.0" />
<text x="613.90" y="215.70" font-size="8.4" ><tspan font-style="italic">P</tspan>=1.4×10<tspan font-size="4.704000000000001" dy="-3.528">-6</tspan><tspan dy="3.528"></tspan></text>
<line x1="613.90" y1="217.60" x2="638.90" y2="217.60" stroke="#333" stroke-width="1.0" />
<text x="624.20" y="287.40" font-size="9.9" text-anchor="middle" >YTHDF1</text>
<text x="663.30" y="287.40" font-size="9.9" text-anchor="middle" >DRP1</text>
<text x="579.00" y="241.40" font-size="9.9" text-anchor="middle" transform="rotate(-90 579.00 241.40)" >Relative protein levels</text>
<text x="590.20" y="241.30" font-size="9.9" text-anchor="middle" transform="rotate(-90 590.20 241.30)" >(fold change)</text>
<text x="101.60" y="314.70" font-size="8.6" font-weight="bold" >j</text>
<circle cx="132.80" cy="319.50" r="1.75" fill="#1a1a1a"/>
<text x="139.20" y="322.80" font-size="9.9" >WT</text>
<rect x="131.10" y="331.10" width="3.4" height="3.4" fill="#0000ff"/>
<text x="139.20" y="336.30" font-size="9.9" >WT+TNF</text>
<path d="M130.90 348.05L134.70 348.05L132.80 344.75Z" fill="#ff0000"/>
<text x="139.20" y="350.10" font-size="9.9" ><tspan font-style="italic">Rsad2</tspan><tspan font-size="5.6" dy="-3.6">-/-</tspan><tspan dy="3.6">+TNF</tspan></text>
<line x1="147.20" y1="443.90" x2="147.20" y2="370.35" stroke="#1a1a1a" stroke-width="1.2" />
<line x1="144.60" y1="443.30" x2="147.80" y2="443.30" stroke="#1a1a1a" stroke-width="1.2" />
<text x="143.20" y="446.60" font-size="9.9" text-anchor="end" >0</text>
<line x1="144.60" y1="428.71" x2="147.80" y2="428.71" stroke="#1a1a1a" stroke-width="1.2" />
<text x="143.20" y="432.01" font-size="9.9" text-anchor="end" >20</text>
<line x1="144.60" y1="414.12" x2="147.80" y2="414.12" stroke="#1a1a1a" stroke-width="1.2" />
<text x="143.20" y="417.42" font-size="9.9" text-anchor="end" >40</text>
<line x1="144.60" y1="399.53" x2="147.80" y2="399.53" stroke="#1a1a1a" stroke-width="1.2" />
<text x="143.20" y="402.83" font-size="9.9" text-anchor="end" >60</text>
<line x1="144.60" y1="384.94" x2="147.80" y2="384.94" stroke="#1a1a1a" stroke-width="1.2" />
<text x="143.20" y="388.24" font-size="9.9" text-anchor="end" >80</text>
<line x1="144.60" y1="370.35" x2="147.80" y2="370.35" stroke="#1a1a1a" stroke-width="1.2" />
<text x="143.20" y="373.65" font-size="9.9" text-anchor="end" >100</text>
<rect x="152.65" y="442.57" width="8.10" height="0.73" fill="#fff" stroke="#1a1a1a" stroke-width="1.3" />
<circle cx="154.00" cy="442.57" r="1.1700000000000002" fill="#1a1a1a"/>
<circle cx="155.40" cy="442.57" r="1.1700000000000002" fill="#1a1a1a"/>
<circle cx="156.80" cy="442.57" r="1.1700000000000002" fill="#1a1a1a"/>
<circle cx="158.20" cy="442.57" r="1.1700000000000002" fill="#1a1a1a"/>
<circle cx="159.60" cy="442.57" r="1.1700000000000002" fill="#1a1a1a"/>
<rect x="169.25" y="442.57" width="8.10" height="0.73" fill="#fff" stroke="#0000ff" stroke-width="1.3" />
<circle cx="170.60" cy="442.57" r="1.1700000000000002" fill="#0000ff"/>
<circle cx="172.00" cy="442.57" r="1.1700000000000002" fill="#0000ff"/>
<circle cx="173.40" cy="442.57" r="1.1700000000000002" fill="#0000ff"/>
<circle cx="174.80" cy="442.57" r="1.1700000000000002" fill="#0000ff"/>
<circle cx="176.20" cy="442.57" r="1.1700000000000002" fill="#0000ff"/>
<rect x="184.55" y="442.57" width="8.10" height="0.73" fill="#fff" stroke="#ff0000" stroke-width="1.3" />
<circle cx="185.90" cy="442.57" r="1.1700000000000002" fill="#ff0000"/>
<circle cx="187.30" cy="442.57" r="1.1700000000000002" fill="#ff0000"/>
<circle cx="188.70" cy="442.57" r="1.1700000000000002" fill="#ff0000"/>
<circle cx="190.10" cy="442.57" r="1.1700000000000002" fill="#ff0000"/>
<circle cx="191.50" cy="442.57" r="1.1700000000000002" fill="#ff0000"/>
<rect x="210.35" y="429.00" width="8.20" height="14.30" fill="#fff" stroke="#1a1a1a" stroke-width="1.3" />
<rect x="225.65" y="388.73" width="8.70" height="54.57" fill="#fff" stroke="#0000ff" stroke-width="1.3" />
<rect x="241.05" y="420.32" width="8.70" height="22.98" fill="#fff" stroke="#ff0000" stroke-width="1.3" />
<line x1="146.60" y1="443.30" x2="255.60" y2="443.30" stroke="#1a1a1a" stroke-width="1.2" />
<line x1="173.60" y1="443.30" x2="173.60" y2="446.30" stroke="#1a1a1a" stroke-width="1.2" />
<line x1="229.90" y1="443.30" x2="229.90" y2="446.30" stroke="#1a1a1a" stroke-width="1.2" />
<line x1="214.50" y1="427.98" x2="214.50" y2="429.00" stroke="#1a1a1a" stroke-width="1.0" />
<line x1="212.50" y1="427.98" x2="216.50" y2="427.98" stroke="#1a1a1a" stroke-width="1.0" />
<line x1="230.00" y1="386.76" x2="230.00" y2="388.73" stroke="#0000ff" stroke-width="1.0" />
<line x1="228.00" y1="386.76" x2="232.00" y2="386.76" stroke="#0000ff" stroke-width="1.0" />
<line x1="245.40" y1="418.86" x2="245.40" y2="419.81" stroke="#ff0000" stroke-width="1.0" />
<line x1="243.40" y1="418.86" x2="247.40" y2="418.86" stroke="#ff0000" stroke-width="1.0" />
<circle cx="212.00" cy="428.71" r="1.3" fill="#1a1a1a"/>
<circle cx="214.50" cy="427.62" r="1.3" fill="#1a1a1a"/>
<circle cx="217.00" cy="429.07" r="1.3" fill="#1a1a1a"/>
<circle cx="213.50" cy="429.80" r="1.3" fill="#1a1a1a"/>
<circle cx="216.00" cy="427.98" r="1.3" fill="#1a1a1a"/>
<rect x="225.85" y="385.98" width="2.3" height="2.3" fill="#0000ff"/>
<rect x="227.85" y="385.25" width="2.3" height="2.3" fill="#0000ff"/>
<rect x="229.85" y="386.34" width="2.3" height="2.3" fill="#0000ff"/>
<rect x="231.85" y="385.61" width="2.3" height="2.3" fill="#0000ff"/>
<rect x="226.85" y="389.63" width="2.3" height="2.3" fill="#0000ff"/>
<rect x="229.85" y="389.99" width="2.3" height="2.3" fill="#0000ff"/>
<path d="M241.00 421.17L243.80 421.17L242.40 418.74Z" fill="#ff0000"/>
<path d="M243.00 420.44L245.80 420.44L244.40 418.01Z" fill="#ff0000"/>
<path d="M245.00 420.81L247.80 420.81L246.40 418.37Z" fill="#ff0000"/>
<path d="M247.00 421.17L249.80 421.17L248.40 418.74Z" fill="#ff0000"/>
<text x="212.20" y="356.90" font-size="8.4" ><tspan font-style="italic">P</tspan>=4.1×10<tspan font-size="4.704000000000001" dy="-3.528">-5</tspan><tspan dy="3.528"></tspan></text>
<line x1="209.70" y1="358.40" x2="251.50" y2="358.40" stroke="#333" stroke-width="1.0" />
<text x="224.60" y="366.30" font-size="8.4" ><tspan font-style="italic">P</tspan>=1.0×10<tspan font-size="4.704000000000001" dy="-3.528">-5</tspan><tspan dy="3.528"></tspan></text>
<line x1="228.20" y1="368.00" x2="252.40" y2="368.00" stroke="#333" stroke-width="1.0" />
<text x="207.20" y="377.30" font-size="8.4" ><tspan font-style="italic">P</tspan>=1.0×10<tspan font-size="4.704000000000001" dy="-3.528">-6</tspan><tspan dy="3.528"></tspan></text>
<line x1="209.30" y1="379.40" x2="233.50" y2="379.40" stroke="#333" stroke-width="1.0" />
<text x="171.50" y="454.80" font-size="9.9" text-anchor="middle" >IgG</text>
<text x="231.60" y="454.90" font-size="9.9" text-anchor="middle" >YTHDF1</text>
<text x="109.40" y="397.20" font-size="9.9" text-anchor="middle" transform="rotate(-90 109.40 397.20)" >YTHDF1-RIP Enrichment</text>
<text x="121.10" y="395.60" font-size="10.1" text-anchor="middle" transform="rotate(-90 121.10 395.60)" >(Relative fold change of DRP1)</text>
<text x="338.00" y="315.60" font-size="8.6" font-weight="bold" >k</text>
<text x="394.80" y="331.30" font-size="9.9" ><tspan font-style="italic">Drp1</tspan> mRNA</text>
<line x1="392.20" y1="334.60" x2="450.50" y2="334.60" stroke="#1a1a1a" stroke-width="1.0" />
<text x="383.40" y="398.40" font-size="9.9" transform="rotate(-90 383.40 398.40)" >Input</text>
<text x="404.20" y="398.20" font-size="9.9" transform="rotate(-90 404.20 398.20)" >WT</text>
<text x="423.40" y="398.20" font-size="9.9" transform="rotate(-90 423.40 398.20)" >WT+TNF</text>
<text x="443.60" y="398.20" font-size="9.9" transform="rotate(-90 443.60 398.20)" ><tspan font-style="italic">Rsad2</tspan><tspan font-size="5.8" dy="-3.8">-/-</tspan><tspan dy="3.8">+TNF</tspan></text>
<rect x="372.00" y="401.20" width="76.60" height="19.60" fill="#f7f7f7" filter="url(#bl5)"/>
<rect x="372.00" y="427.80" width="76.60" height="15.40" fill="#f7f7f7" filter="url(#bl5)"/>
<rect x="374.30" y="410.60" width="14.10" height="4.20" rx="2.10" fill="#000" opacity="0.72" filter="url(#bl10)"/>
<rect x="393.00" y="411.30" width="14.00" height="4.00" rx="2.00" fill="#000" opacity="0.72" filter="url(#bl10)"/>
<rect x="393.00" y="411.80" width="6.00" height="3.60" rx="1.80" fill="#000" opacity="1.0" filter="url(#bl10)"/>
<rect x="411.70" y="409.50" width="13.40" height="4.00" rx="2.00" fill="#000" opacity="1.0" filter="url(#bl9)"/>
<rect x="430.40" y="412.40" width="16.30" height="3.00" rx="1.50" fill="#000" opacity="0.08" filter="url(#bl12)"/>
<rect x="430.40" y="417.00" width="16.30" height="2.60" rx="1.30" fill="#000" opacity="0.12" filter="url(#bl12)"/>
<rect x="372.80" y="432.50" width="18.20" height="2.80" rx="1.40" fill="#000" opacity="1.0" filter="url(#bl8)"/>
<rect x="391.50" y="432.60" width="18.50" height="2.60" rx="1.30" fill="#000" opacity="1.0" filter="url(#bl8)"/>
<rect x="410.50" y="432.60" width="18.50" height="2.60" rx="1.30" fill="#000" opacity="1.0" filter="url(#bl8)"/>
<rect x="429.50" y="432.65" width="18.00" height="2.50" rx="1.25" fill="#000" opacity="1.0" filter="url(#bl8)"/>
<text x="367.80" y="416.20" font-size="9.9" text-anchor="end" >YTHDF1</text>
<text x="367.80" y="438.00" font-size="9.9" text-anchor="end" >β-Actin</text>
<line x1="449.90" y1="413.40" x2="452.50" y2="413.40" stroke="#1a1a1a" stroke-width="1.0" />
<text x="454.50" y="416.60" font-size="8.3" >61</text>
<line x1="449.90" y1="434.20" x2="452.50" y2="434.20" stroke="#1a1a1a" stroke-width="1.0" />
<text x="454.50" y="437.40" font-size="8.3" >42</text>
<text x="438.30" y="451.70" font-size="8.3" >(kDa)</text>
<circle cx="469.10" cy="311.90" r="1.6" fill="#1a1a1a"/>
<text x="475.10" y="315.50" font-size="9.9" >WT</text>
<rect x="467.60" y="324.40" width="3.0" height="3.0" fill="#0000ff"/>
<text x="475.10" y="329.10" font-size="9.9" >WT+TNF</text>
<path d="M467.40 341.38L470.80 341.38L469.10 338.42Z" fill="#ff0000"/>
<text x="475.10" y="342.70" font-size="9.9" ><tspan font-style="italic">Rsad2</tspan><tspan font-size="5.6" dy="-3.6">-/-</tspan><tspan dy="3.6">+TNF</tspan></text>
<line x1="522.30" y1="450.30" x2="522.30" y2="377.45" stroke="#1a1a1a" stroke-width="1.2" />
<line x1="519.70" y1="449.70" x2="522.90" y2="449.70" stroke="#1a1a1a" stroke-width="1.2" />
<text x="518.30" y="453.00" font-size="9.9" text-anchor="end" >0.0</text>
<line x1="519.70" y1="435.25" x2="522.90" y2="435.25" stroke="#1a1a1a" stroke-width="1.2" />
<text x="518.30" y="438.55" font-size="9.9" text-anchor="end" >0.5</text>
<line x1="519.70" y1="420.80" x2="522.90" y2="420.80" stroke="#1a1a1a" stroke-width="1.2" />
<text x="518.30" y="424.10" font-size="9.9" text-anchor="end" >1.0</text>
<line x1="519.70" y1="406.35" x2="522.90" y2="406.35" stroke="#1a1a1a" stroke-width="1.2" />
<text x="518.30" y="409.65" font-size="9.9" text-anchor="end" >1.5</text>
<line x1="519.70" y1="391.90" x2="522.90" y2="391.90" stroke="#1a1a1a" stroke-width="1.2" />
<text x="518.30" y="395.20" font-size="9.9" text-anchor="end" >2.0</text>
<line x1="519.70" y1="377.45" x2="522.90" y2="377.45" stroke="#1a1a1a" stroke-width="1.2" />
<text x="518.30" y="380.75" font-size="9.9" text-anchor="end" >2.5</text>
<rect x="527.95" y="421.38" width="9.00" height="28.32" fill="#fff" stroke="#1a1a1a" stroke-width="1.3" />
<rect x="543.55" y="393.34" width="8.90" height="56.36" fill="#fff" stroke="#ff0000" stroke-width="1.3" />
<rect x="558.95" y="437.27" width="9.00" height="12.43" fill="#fff" stroke="#0000ff" stroke-width="1.3" />
<line x1="521.70" y1="449.70" x2="574.70" y2="449.70" stroke="#1a1a1a" stroke-width="1.2" />
<line x1="532.30" y1="449.70" x2="532.30" y2="452.70" stroke="#1a1a1a" stroke-width="1.2" />
<line x1="547.90" y1="449.70" x2="547.90" y2="452.70" stroke="#1a1a1a" stroke-width="1.2" />
<line x1="563.50" y1="449.70" x2="563.50" y2="452.70" stroke="#1a1a1a" stroke-width="1.2" />
<line x1="532.30" y1="419.93" x2="532.30" y2="421.38" stroke="#1a1a1a" stroke-width="1.0" />
<line x1="530.30" y1="419.93" x2="534.30" y2="419.93" stroke="#1a1a1a" stroke-width="1.0" />
<line x1="547.90" y1="389.59" x2="547.90" y2="397.10" stroke="#ff0000" stroke-width="1.0" />
<line x1="545.90" y1="389.59" x2="549.90" y2="389.59" stroke="#ff0000" stroke-width="1.0" />
<line x1="545.90" y1="397.10" x2="549.90" y2="397.10" stroke="#ff0000" stroke-width="1.0" />
<line x1="563.50" y1="436.41" x2="563.50" y2="437.27" stroke="#0000ff" stroke-width="1.0" />
<line x1="561.50" y1="436.41" x2="565.50" y2="436.41" stroke="#0000ff" stroke-width="1.0" />
<circle cx="530.00" cy="418.49" r="1.3" fill="#1a1a1a"/>
<circle cx="532.80" cy="417.33" r="1.3" fill="#1a1a1a"/>
<circle cx="534.90" cy="419.36" r="1.3" fill="#1a1a1a"/>
<circle cx="529.80" cy="421.38" r="1.3" fill="#1a1a1a"/>
<circle cx="533.80" cy="422.82" r="1.3" fill="#1a1a1a"/>
<circle cx="532.30" cy="423.69" r="1.3" fill="#1a1a1a"/>
<circle cx="547.90" cy="384.68" r="1.3" fill="#ff0000"/>
<circle cx="544.90" cy="391.32" r="1.3" fill="#ff0000"/>
<circle cx="551.10" cy="392.48" r="1.3" fill="#ff0000"/>
<circle cx="547.90" cy="393.34" r="1.3" fill="#ff0000"/>
<circle cx="547.90" cy="408.66" r="1.3" fill="#ff0000"/>
<circle cx="549.40" cy="391.90" r="1.3" fill="#ff0000"/>
<circle cx="560.30" cy="437.56" r="1.3" fill="#0000ff"/>
<circle cx="562.50" cy="437.27" r="1.3" fill="#0000ff"/>
<circle cx="564.70" cy="436.98" r="1.3" fill="#0000ff"/>
<circle cx="566.90" cy="435.25" r="1.3" fill="#0000ff"/>
<circle cx="563.50" cy="439.30" r="1.3" fill="#0000ff"/>
<text x="529.50" y="357.80" font-size="8.4" ><tspan font-style="italic">P</tspan>=3.5×10<tspan font-size="4.704000000000001" dy="-3.528">-8</tspan><tspan dy="3.528"></tspan></text>
<line x1="526.90" y1="359.60" x2="567.90" y2="359.60" stroke="#333" stroke-width="1.0" />
<text x="543.10" y="367.40" font-size="8.4" ><tspan font-style="italic">P</tspan>=0.0007</text>
<line x1="546.20" y1="369.30" x2="570.20" y2="369.30" stroke="#333" stroke-width="1.0" />
<text x="524.70" y="378.60" font-size="8.4" ><tspan font-style="italic">P</tspan>=6.0×10<tspan font-size="4.704000000000001" dy="-3.528">-6</tspan><tspan dy="3.528"></tspan></text>
<line x1="526.70" y1="380.30" x2="550.80" y2="380.30" stroke="#333" stroke-width="1.0" />
<text x="486.00" y="409.60" font-size="9.9" text-anchor="middle" transform="rotate(-90 486.00 409.60)" >YTHDF1 protein levels</text>
<text x="498.30" y="409.90" font-size="9.9" text-anchor="middle" transform="rotate(-90 498.30 409.90)" >(fold change)</text>
</svg>
</body></html>
